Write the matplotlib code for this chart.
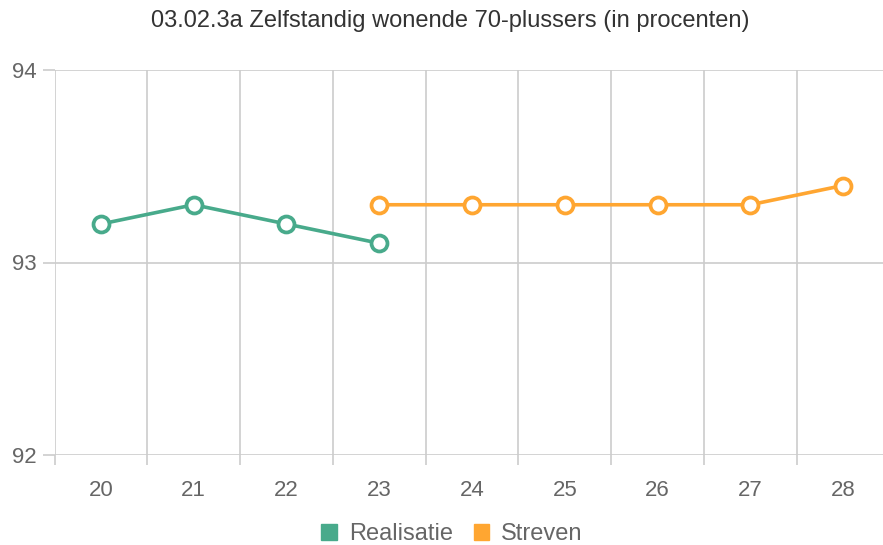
import matplotlib
matplotlib.use("Agg")
import matplotlib.pyplot as plt
from matplotlib.patches import Patch

plt.rcParams['font.family'] = ['Liberation Sans', 'DejaVu Sans']

years = [20, 21, 22, 23, 24, 25, 26, 27, 28]
real_years = [20, 21, 22, 23]
realisatie = [93.2, 93.3, 93.2, 93.1]
streven_years = [23, 24, 25, 26, 27, 28]
streven = [93.3, 93.3, 93.3, 93.3, 93.3, 93.4]

green = '#48aa8b'
orange = '#ffa631'
grid_col = '#cccccc'

fig = plt.figure(figsize=(8.83, 5.45), dpi=100)
ax = fig.add_axes([54.6 / 883, 90 / 545, (889.4 - 54.6) / 883, 385 / 545])

ax.plot(real_years, realisatie, color=green, lw=2.6, marker='o', ms=11.5,
        mfc='white', mec=green, mew=2.7, zorder=3, clip_on=False)
ax.plot(streven_years, streven, color=orange, lw=2.6, marker='o', ms=11.5,
        mfc='white', mec=orange, mew=2.7, zorder=3, clip_on=False)

ax.set_xlim(19.5, 28.5)
ax.set_ylim(92, 94)
ax.set_xticks(years)
ax.set_xticklabels([str(y) for y in years])
ax.set_xticks([y + 0.5 for y in years[:-1]] + [19.5], minor=True)
ax.set_yticks([92, 93, 94])

ax.tick_params(axis='x', which='major', length=0, pad=18, labelsize=16, labelcolor='#666666')
ax.tick_params(axis='x', which='minor', length=7, color=grid_col, width=1.2)
ax.tick_params(axis='y', which='major', length=9, color=grid_col, width=1.2, pad=4,
               labelsize=16, labelcolor='#666666')

ax.grid(True, which='minor', axis='x', color=grid_col, lw=1.2)
ax.grid(True, which='major', axis='y', color=grid_col, lw=1.2)
for s in ax.spines.values():
    s.set_visible(False)
ax.set_axisbelow(True)

fig.text(450 / 883, 1 - 21 / 545, '03.02.3a Zelfstandig wonende 70-plussers (in procenten)',
         ha='center', va='center', fontsize=17, color='#333333')

handles = [Patch(facecolor=green, edgecolor=green, label='Realisatie'),
           Patch(facecolor=orange, edgecolor=orange, label='Streven')]
fig.legend(handles=handles, loc='center', bbox_to_anchor=(452 / 883, 1 - 534 / 545),
           ncol=2, frameon=False, fontsize=17, handlelength=0.65, handleheight=0.65,
           handletextpad=0.5, columnspacing=0.9, labelcolor='#666666')

fig.savefig('out.png', dpi=100)
